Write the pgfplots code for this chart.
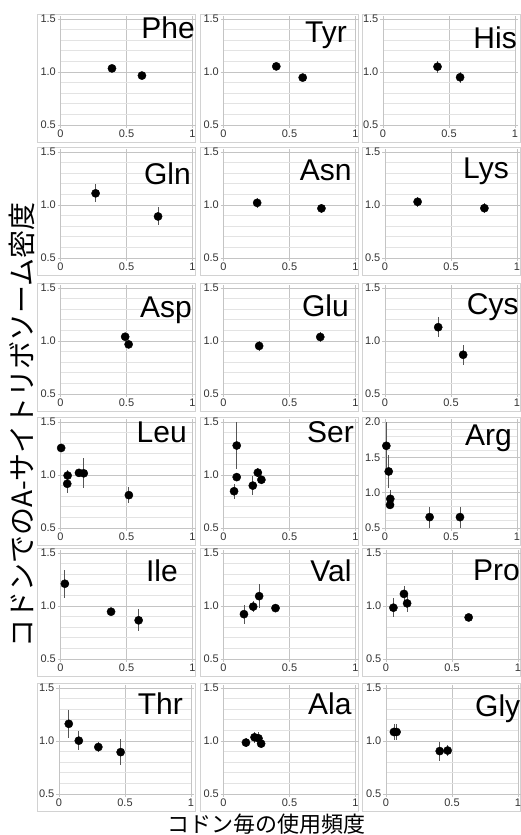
\documentclass[border=0pt]{standalone}
\usepackage{pgfplots}
\pgfplotsset{compat=1.18}
\usepackage{fontspec}
\setmainfont{Liberation Sans}
\newfontfamily\jp{Noto Sans CJK JP}
\definecolor{gridmaj}{HTML}{C4C4C4}
\definecolor{gridmin}{HTML}{E3E3E3}
\definecolor{framec}{HTML}{D2D2D2}
\definecolor{ticklab}{HTML}{333333}
\definecolor{errc}{HTML}{555555}

\pgfplotsset{
  panel/.style={
    anchor=north west, scale only axis, width=132pt, height=106pt,
    xmin=0, xmax=1, ymin=0.5, ymax=1.5,
    xtick={0,0.5,1}, ytick={0.5,1,1.5}, minor y tick num=4,
    xmajorgrids, ymajorgrids, yminorgrids,
    major grid style={gridmaj, line width=0.7pt},
    minor grid style={gridmin, line width=1pt},
    axis line style={gridmaj, line width=0.7pt},
    tick align=outside, major tick length=3pt, minor tick length=0pt,
    tick style={gridmaj, line width=0.7pt},
    /pgf/number format/assume math mode=true,
    ticklabel style={font=\fontsize{11}{11}\selectfont, text=ticklab, inner sep=1.5pt},
    yticklabel style={/pgf/number format/.cd, fixed, fixed zerofill, precision=1},
    clip=false,
  },
  pts/.style={only marks, mark=*, mark size=4.1pt, black,
    error bars/.cd, y dir=both, y explicit, error mark=none,
    error bar style={errc, line width=0.8pt}},
}

% one small panel: x of left edge, y of top edge (pt), extra options, rows "x y e\\"
\newcommand{\panel}[4]{%
  \begin{axis}[panel, at={(#1pt,#2pt)}, #3]
    \addplot[pts] table[row sep=\\, x=x, y=y, y error=e] {x y e\\ #4};
  \end{axis}}

\tikzset{aa/.style={inner sep=0pt, font=\fontsize{30}{30}\selectfont}}

\begin{document}
\begin{tikzpicture}
\path[use as bounding box] (0pt,0pt) rectangle (520pt,835pt);

\begin{scope}[x=1pt, y=1pt]
% panel frames
\foreach \cx in {60.5,223.5,385} {
  \foreach \ty in {816,683,547,413,282,147} {
    \draw[framec, line width=0.8pt] (\cx-23,\ty+5) rectangle (\cx+135,\ty-123);
  }
}
\end{scope}

% row 1
\panel{60.5}{816}{}{0.39 1.034 0.02\\ 0.617 0.966 0.02\\}
\panel{223.5}{816}{}{0.40 1.053 0.03\\ 0.60 0.947 0.03\\}
\panel{383}{816}{}{0.413 1.05 0.055\\ 0.584 0.95 0.05\\}
% row 2
\panel{60.5}{683}{}{0.266 1.11 0.085\\ 0.739 0.892 0.085\\}
\panel{223.5}{683}{}{0.255 1.02 0.05\\ 0.742 0.968 0.045\\}
\panel{385}{683}{}{0.247 1.03 0.05\\ 0.753 0.97 0.05\\}
% row 3
\panel{60.5}{547}{}{0.49 1.04 0.03\\ 0.516 0.968 0.03\\}
\panel{223.5}{547}{}{0.27 0.953 0.05\\ 0.733 1.038 0.05\\}
\panel{385}{547}{}{0.403 1.13 0.095\\ 0.592 0.87 0.095\\}
% row 4
\panel{60.5}{413}{}{0.005 1.255 0.02\\ 0.054 0.995 0.05\\ 0.051 0.917 0.09\\ 0.14 1.02 0.03\\ 0.176 1.016 0.14\\ 0.518 0.81 0.075\\}
\panel{223.5}{413}{}{0.08 0.847 0.07\\ 0.10 0.98 0.04\\ 0.10 1.278 0.22\\ 0.222 0.90 0.09\\ 0.26 1.022 0.04\\ 0.287 0.955 0.04\\}
\panel{385}{413}{ymax=2, ytick={0.5,1,1.5,2}}{0.01 1.663 0.33\\ 0.028 1.30 0.23\\ 0.04 0.913 0.13\\ 0.038 0.827 0.04\\ 0.338 0.654 0.15\\ 0.568 0.654 0.15\\}
% row 5
\panel{60.5}{282}{}{0.033 1.21 0.13\\ 0.383 0.946 0.02\\ 0.592 0.865 0.105\\}
\panel{223.5}{282}{}{0.155 0.923 0.09\\ 0.225 0.994 0.05\\ 0.27 1.093 0.11\\ 0.394 0.98 0.04\\}
\panel{386}{282}{}{0.056 0.984 0.09\\ 0.136 1.114 0.07\\ 0.16 1.025 0.08\\ 0.626 0.892 0.02\\}
% row 6
\panel{59}{147}{}{0.074 1.162 0.135\\ 0.15 1.003 0.09\\ 0.298 0.943 0.05\\ 0.467 0.895 0.12\\}
\panel{223.5}{147}{}{0.17 0.985 0.045\\ 0.235 1.035 0.05\\ 0.265 1.025 0.06\\ 0.285 0.975 0.04\\}
\panel{386}{147}{}{0.06 1.085 0.08\\ 0.08 1.085 0.08\\ 0.407 0.905 0.09\\ 0.467 0.91 0.05\\}

\begin{scope}[x=1pt, y=1pt]
% amino acid names
\node[aa, anchor=north east] at (195,818.3) {Phe};
\node[aa, anchor=north east] at (347,813.3) {Tyr};
\node[aa, anchor=north east] at (517,808.3) {His};
\node[aa, anchor=north east] at (191,672) {Gln};
\node[aa, anchor=north east] at (351.7,675) {Asn};
\node[aa, anchor=north east] at (509,677) {Lys};
\node[aa, anchor=north east] at (192,538.3) {Asp};
\node[aa, anchor=north east] at (349,540) {Glu};
\node[aa, anchor=north west] at (466.7,542) {Cys};
\node[aa, anchor=north east] at (187,413.3) {Leu};
\node[aa, anchor=north east] at (354,413.3) {Ser};
\node[aa, anchor=north east] at (512,410) {Arg};
\node[aa, anchor=north east] at (178,275) {Ile};
\node[aa, anchor=north east] at (351.7,275) {Val};
\node[aa, anchor=north west] at (473,275) {Pro};
\node[aa, anchor=north east] at (183,142.3) {Thr};
\node[aa, anchor=north east] at (351.7,142) {Ala};
\node[aa, anchor=north west] at (475,140) {Gly};

% axis titles
\node[rotate=90, font=\jp\fontsize{28}{28}\selectfont] at (22,410) {コドンでのA-サイトリボソーム密度};
\node[font=\jp\fontsize{22}{22}\selectfont] at (266,11) {コドン毎の使用頻度};
\end{scope}
\end{tikzpicture}
\end{document}
